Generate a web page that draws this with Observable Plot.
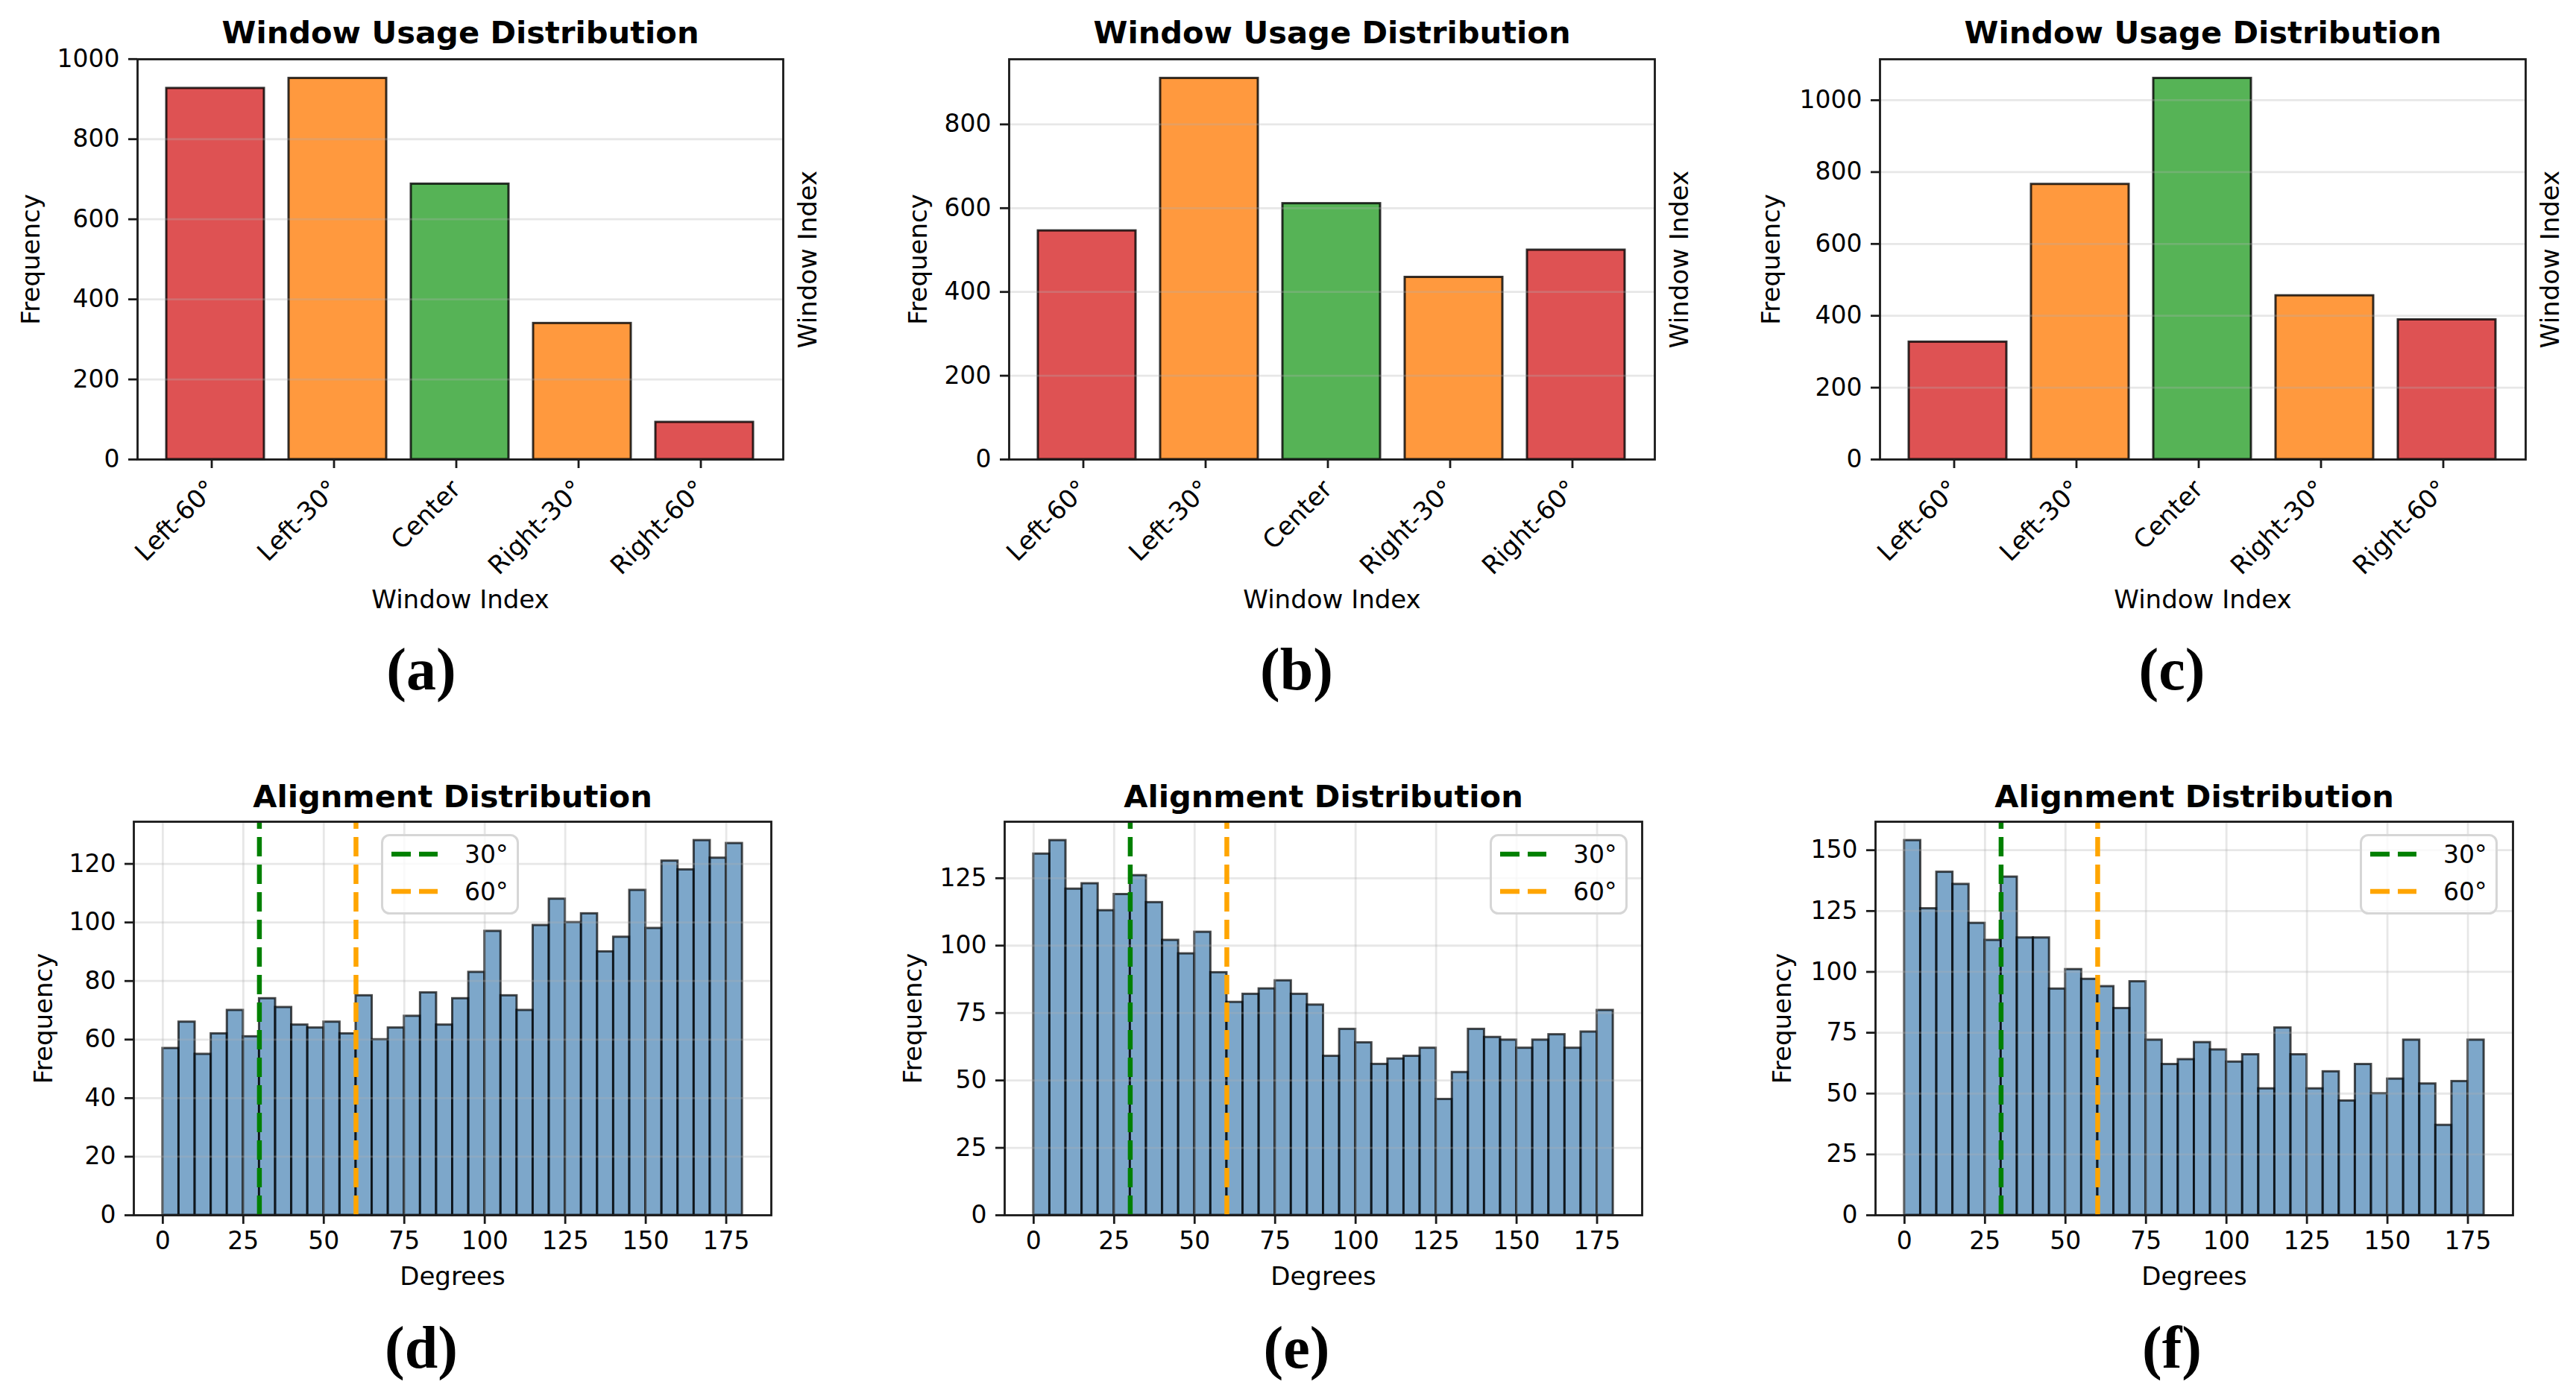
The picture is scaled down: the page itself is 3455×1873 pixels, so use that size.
<!DOCTYPE html>
<html><head><meta charset="utf-8">
<script src="https://cdn.jsdelivr.net/npm/d3@7"></script>
<script src="https://cdn.jsdelivr.net/npm/@observablehq/plot@0.6"></script>
<style>
html,body{margin:0;padding:0;background:#fff;}
#fig{position:relative;width:3455px;height:1873px;background:#fff;overflow:hidden;}
.panel{position:absolute;}
.panel svg{max-width:none;display:block;}
.sub{position:absolute;font-family:"Liberation Serif";font-weight:bold;font-size:80px;line-height:1;transform:translate(-50%,-50%);color:#000;white-space:nowrap;}
.legend{position:absolute;}
</style></head><body><div id="fig"></div>
<script>
// ---- data ----
const categories = ["Left-60°", "Left-30°", "Center", "Right-30°", "Right-60°"];
const categoryColors = ["#d62728", "#ff7f0e", "#2ca02c", "#ff7f0e", "#d62728"];
const usageA = [927, 952, 688, 340, 93];
const usageB = [546, 910, 611, 435, 500];
const usageC = [327, 766, 1061, 456, 389];
const usageTicksA = [0, 200, 400, 600, 800, 1000];
const usageTicksB = [0, 200, 400, 600, 800];
const usageTicksC = [0, 200, 400, 600, 800, 1000];

const binEdges = [0, 5, 10, 15, 20, 25, 30, 35, 40, 45, 50, 55, 60, 65, 70, 75, 80, 85, 90,
  95, 100, 105, 110, 115, 120, 125, 130, 135, 140, 145, 150, 155, 160, 165, 170, 175, 180];
const alignD = [57, 66, 55, 62, 70, 61, 74, 71, 65, 64, 66, 62, 75, 60, 64, 68, 76, 65,
  74, 83, 97, 75, 70, 99, 108, 100, 103, 90, 95, 111, 98, 121, 118, 128, 122, 127];
const alignE = [134, 139, 121, 123, 113, 119, 126, 116, 102, 97, 105, 90, 79, 82, 84, 87, 82, 78,
  59, 69, 64, 56, 58, 59, 62, 43, 53, 69, 66, 65, 62, 65, 67, 62, 68, 76];
const alignF = [154, 126, 141, 136, 120, 113, 139, 114, 114, 93, 101, 97, 94, 85, 96, 72, 62, 64,
  71, 68, 63, 66, 52, 77, 66, 52, 59, 47, 62, 50, 56, 72, 54, 37, 55, 72];
const alignTicksX = [0, 25, 50, 75, 100, 125, 150, 175];
const alignTicksD = [0, 20, 40, 60, 80, 100, 120];
const alignTicksE = [0, 25, 50, 75, 100, 125];
const alignTicksF = [0, 25, 50, 75, 100, 125, 150];
const refAngles = [30, 60];
const refLabels = ["30°", "60°"];
const refColors = ["#008000", "#ffa500"];
const panelLetters = ["(a)", "(b)", "(c)", "(d)", "(e)", "(f)"];
const usageTitle = "Window Usage Distribution";
const alignTitle = "Alignment Distribution";

// ---- style / layout ----
const FONT = "DejaVu Sans";
const gridStyle = {stroke: "#b0b0b0", strokeOpacity: 0.3, strokeWidth: 2.8};
const plain = d => String(d);
const fig = document.getElementById("fig");

function place(node, left, top) {
  const div = document.createElement("div");
  div.className = "panel";
  div.style.left = left + "px";
  div.style.top = top + "px";
  div.appendChild(node);
  fig.appendChild(div);
}

function label(txt, opts) {
  return Plot.text([txt], {text: d => d, textAnchor: "middle", lineAnchor: "middle", fontSize: 34, ...opts});
}

function barPanel(values, ticks, axesLeft, ylabelDx) {
  const data = categories.map((c, i) => ({cat: c, v: values[i], color: categoryColors[i]}));
  const ymax = d3.max(values) * 1.05;
  const ML = 180, MR = 120, MT = 79, MB = 280, AW = 866, AH = 537;
  const svg = Plot.plot({
    width: ML + AW + MR, height: MT + AH + MB,
    marginLeft: ML, marginRight: MR, marginTop: MT, marginBottom: MB,
    style: {fontFamily: FONT, fontSize: "33px", color: "#000", background: "none", overflow: "visible"},
    x: {type: "band", domain: categories, paddingInner: 0.2, paddingOuter: 0.24},
    y: {domain: [0, ymax]},
    marks: [
      Plot.barY(data, {x: "cat", y: "v", fill: "color", fillOpacity: 0.8, stroke: "#000", strokeOpacity: 0.8, strokeWidth: 3}),
      Plot.gridY(ticks, gridStyle),
      Plot.frame({stroke: "#1a1a1a", strokeWidth: 2.8}),
      Plot.axisY(ticks, {tickSize: 12, tickPadding: 12, strokeWidth: 2.8, fontSize: 33, label: null, stroke: "#1a1a1a", tickFormat: plain}),
      Plot.axisX({tickSize: 12, tickPadding: 22, dx: -5, tickRotate: -45, strokeWidth: 2.8, fontSize: 34, label: null, stroke: "#1a1a1a"}),
      Plot.text([usageTitle], {text: d => d, frameAnchor: "top", dy: -22, lineAnchor: "bottom", fontSize: 41.6, fontWeight: "bold"}),
      label("Frequency", {frameAnchor: "left", dx: -ylabelDx, rotate: -90}),
      label("Window Index", {frameAnchor: "bottom", dy: 189}),
      label("Window Index", {frameAnchor: "right", dx: 34, rotate: -90})
    ]
  });
  place(svg, axesLeft - ML, 79 - MT);
}

function histPanel(counts, yTicks, axesLeft, ylabelDx, legendLeft) {
  const data = counts.map((c, i) => ({x1: binEdges[i], x2: binEdges[i + 1], y: c}));
  const lo = binEdges[0], hi = binEdges[binEdges.length - 1], pad = (hi - lo) * 0.05;
  const ymax = d3.max(counts) * 1.05;
  const refs = refAngles.map((a, i) => ({angle: a, color: refColors[i], label: refLabels[i]}));
  const ML = 175, MR = 120, MT = 80, MB = 140, AW = 855, AH = 528;
  const svg = Plot.plot({
    width: ML + AW + MR, height: MT + AH + MB,
    marginLeft: ML, marginRight: MR, marginTop: MT, marginBottom: MB,
    style: {fontFamily: FONT, fontSize: "33px", color: "#000", background: "none", overflow: "visible"},
    x: {domain: [lo - pad, hi + pad]},
    y: {domain: [0, ymax]},
    marks: [
      Plot.rectY(data, {x1: "x1", x2: "x2", y: "y", fill: "steelblue", fillOpacity: 0.7, stroke: "#000", strokeOpacity: 0.7, strokeWidth: 3}),
      Plot.gridX(alignTicksX, gridStyle),
      Plot.gridY(yTicks, gridStyle),
      Plot.ruleX(refs, {x: "angle", y1: 0, y2: ymax, stroke: "color", strokeWidth: 6.5, strokeDasharray: "26 11"}),
      Plot.frame({stroke: "#1a1a1a", strokeWidth: 2.8}),
      Plot.axisY(yTicks, {tickSize: 12, tickPadding: 12, strokeWidth: 2.8, fontSize: 33, label: null, stroke: "#1a1a1a", tickFormat: plain}),
      Plot.axisX(alignTicksX, {tickSize: 12, tickPadding: 10, strokeWidth: 2.8, fontSize: 33, label: null, stroke: "#1a1a1a", tickFormat: plain}),
      Plot.text([alignTitle], {text: d => d, frameAnchor: "top", dy: -20, lineAnchor: "bottom", fontSize: 41.6, fontWeight: "bold"}),
      label("Frequency", {frameAnchor: "left", dx: -ylabelDx, rotate: -90}),
      label("Degrees", {frameAnchor: "bottom", dy: 83})
    ]
  });
  place(svg, axesLeft - ML, 1102 - MT);

  // legend
  const W = 185, H = 108;
  const lg = d3.create("svg").attr("width", W).attr("height", H).style("display", "block");
  lg.append("rect").attr("x", 1.5).attr("y", 1.5).attr("width", W - 3).attr("height", H - 3)
    .attr("rx", 10).attr("fill", "#fff").attr("fill-opacity", 0.8)
    .attr("stroke", "#d6d6d6").attr("stroke-width", 3);
  refs.forEach((r, i) => {
    const cy = 27 + i * 50;
    lg.append("line").attr("x1", 14).attr("x2", 76).attr("y1", cy).attr("y2", cy)
      .attr("stroke", r.color).attr("stroke-width", 6.5).attr("stroke-dasharray", "26 11");
    lg.append("text").attr("x", 112).attr("y", cy).attr("dy", "0.35em")
      .attr("font-family", FONT).attr("font-size", 33).attr("fill", "#000").text(r.label);
  });
  const div = document.createElement("div");
  div.className = "legend";
  div.style.left = legendLeft + "px";
  div.style.top = "1119px";
  div.appendChild(lg.node());
  fig.appendChild(div);
}

barPanel(usageA, usageTicksA, 184, 142);
barPanel(usageB, usageTicksB, 1353, 121);
barPanel(usageC, usageTicksC, 2521, 145);
histPanel(alignD, alignTicksD, 179, 120, 511);
histPanel(alignE, alignTicksE, 1347, 122, 1998);
histPanel(alignF, alignTicksF, 2515, 124, 3165);

const letterX = [565, 1739, 2913];
panelLetters.forEach((t, i) => {
  const s = document.createElement("div");
  s.className = "sub";
  s.textContent = t;
  s.style.left = letterX[i % 3] + "px";
  s.style.top = (i < 3 ? 898 : 1808) + "px";
  fig.appendChild(s);
});
</script></body></html>
